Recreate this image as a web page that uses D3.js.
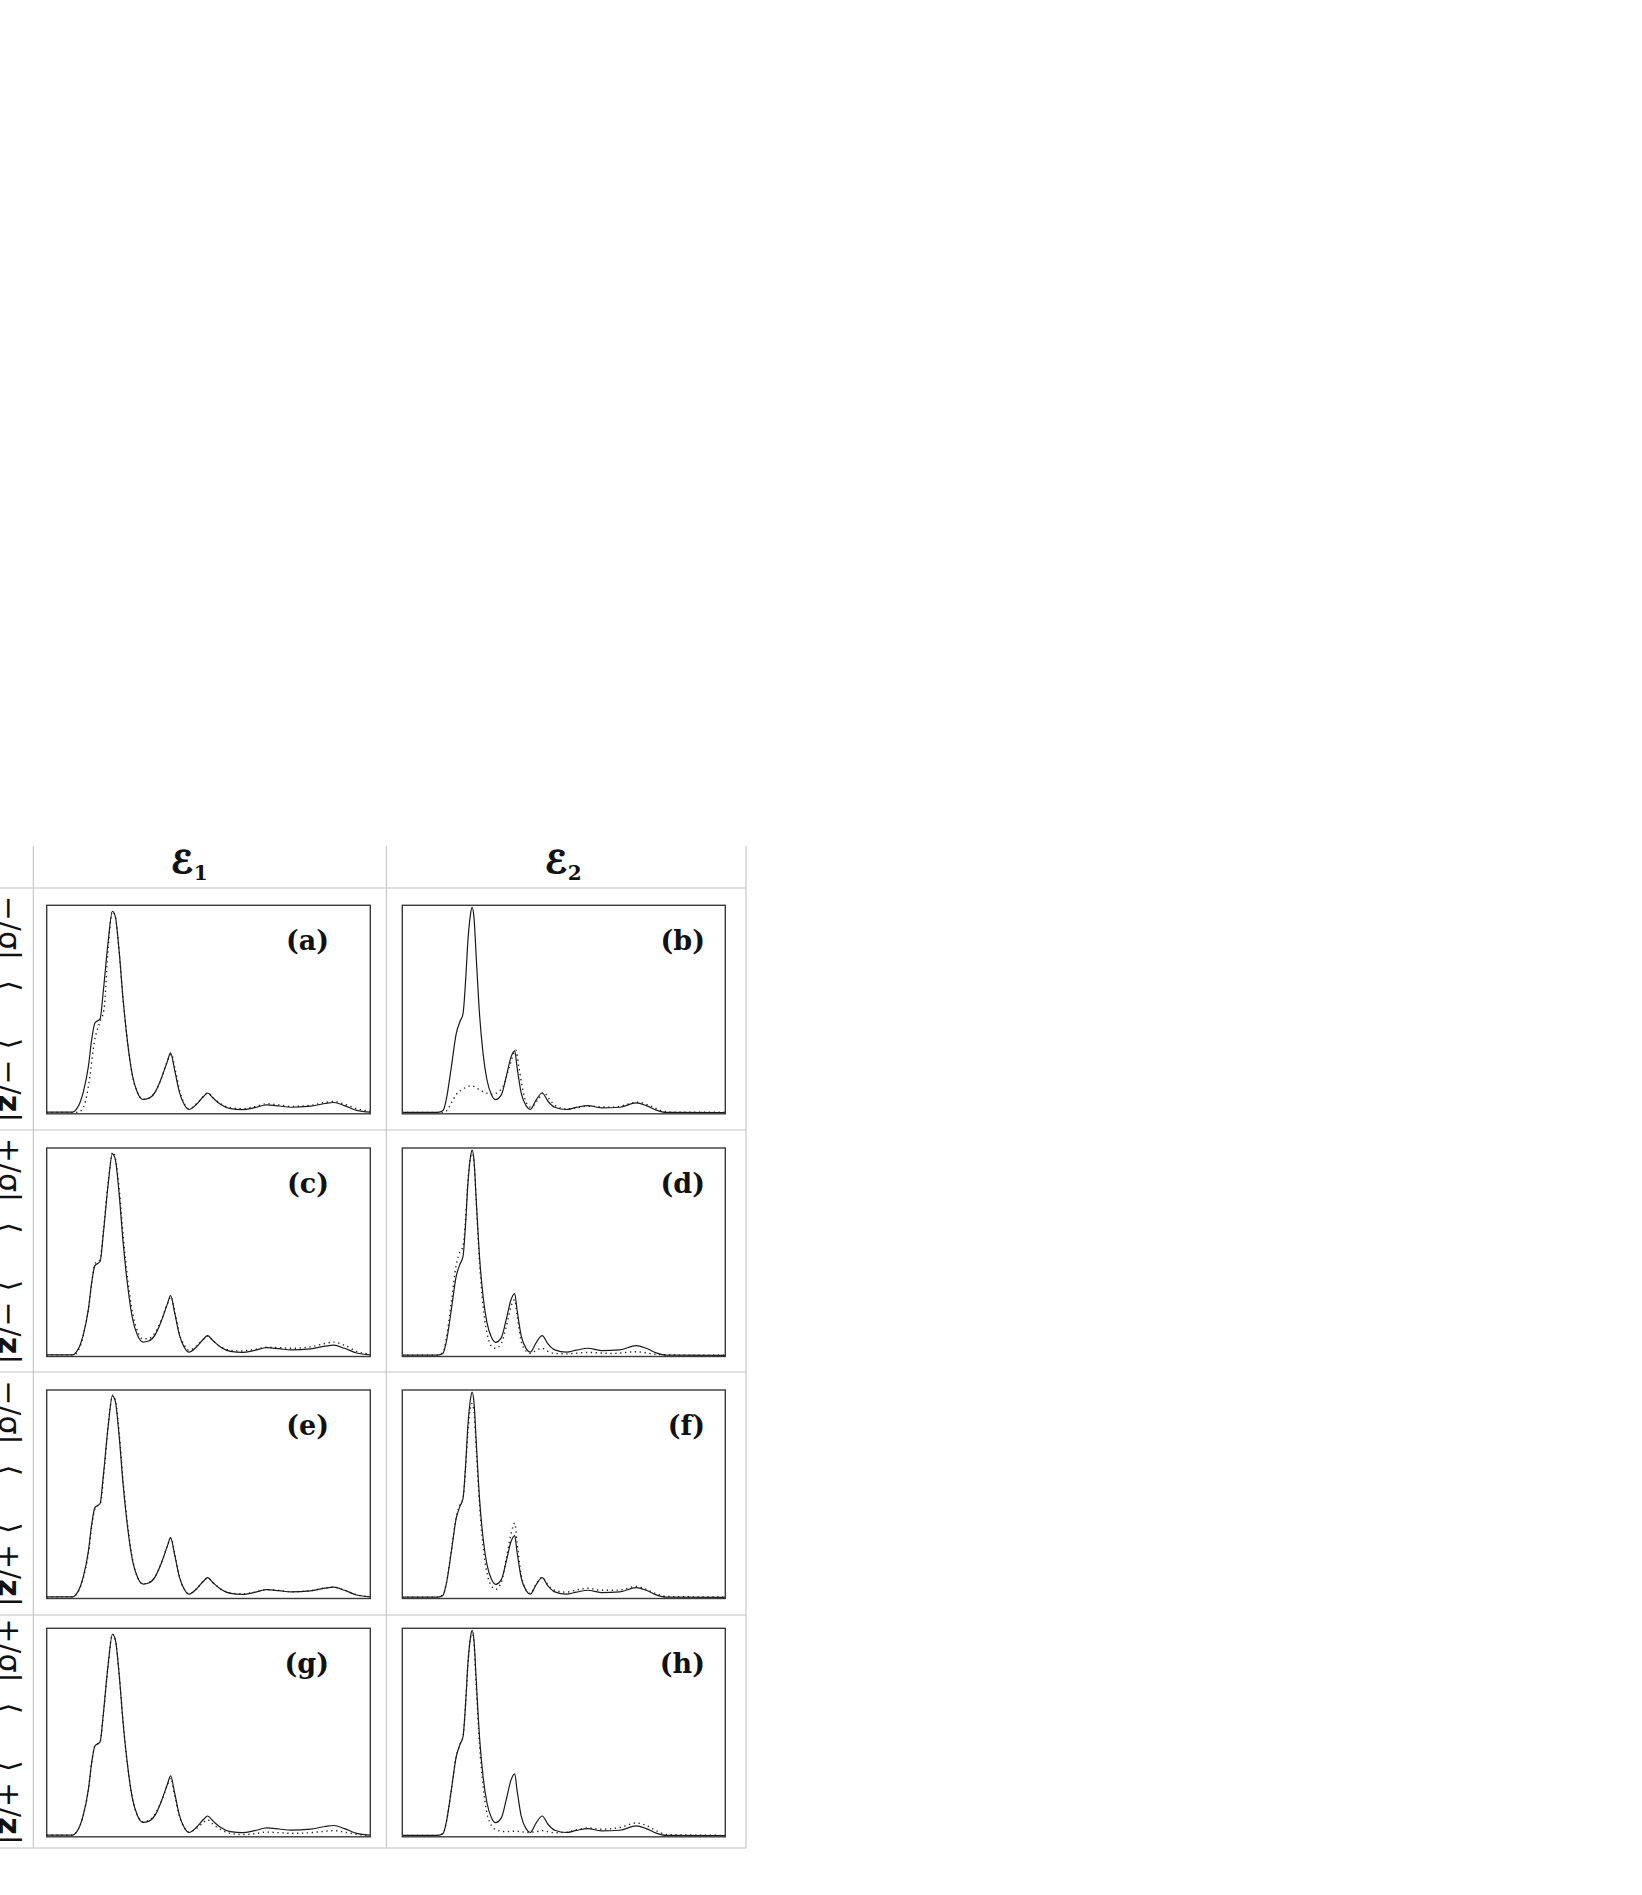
<!DOCTYPE html>
<html><head><meta charset="utf-8">
<script src="https://cdn.jsdelivr.net/npm/d3@7"></script>
<style>body{margin:0;background:#fff;} svg{display:block}</style>
</head><body>
<script>
// ---------------- DATA ----------------
const colBase = ["ℰ", "ℰ"];
const colSub = ["1", "2"];
const panelLabels = [["(a)", "(b)"], ["(c)", "(d)"], ["(e)", "(f)"], ["(g)", "(h)"]];
const rowSigns = [["−", "−"], ["+", "−"], ["−", "+"], ["+", "+"]];

// reference spectrum, column ℰ1 (solid)
const solidE1 = [[0,0.003],[8,0.003],[9.2,0.018],[10.3,0.05],[11.3,0.1],[12.9,0.226],[13.9,0.354],[14.9,0.435],[16.5,0.455],[17.5,0.59],[19,0.83],[20.3,0.976],[21.2,0.95],[22.4,0.78],[23.6,0.55],[25,0.34],[26.5,0.18],[28,0.1],[29.8,0.065],[31.5,0.07],[33.5,0.1],[35.5,0.17],[37.3,0.25],[38.3,0.29],[39.5,0.21],[41,0.1],[42.5,0.04],[44,0.016],[46.2,0.04],[48.5,0.08],[49.7,0.096],[51.5,0.07],[53.8,0.04],[56.8,0.02],[60.5,0.015],[64.3,0.025],[68,0.038],[71.8,0.033],[75.5,0.027],[81.5,0.032],[86,0.045],[88.7,0.05],[92,0.035],[95.8,0.012],[100,0.003]];
// reference spectrum, column ℰ2 (solid)
const solidE2 = [[0,0.002],[11,0.002],[12.6,0.011],[13.6,0.064],[15.2,0.224],[16.7,0.384],[17.8,0.44],[18.8,0.48],[19.6,0.64],[20.3,0.83],[21.1,0.96],[21.6,0.995],[22.2,0.944],[22.9,0.75],[23.9,0.48],[25,0.288],[26.2,0.16],[27.6,0.088],[28.9,0.064],[30.7,0.088],[32.2,0.176],[33.7,0.272],[34.8,0.3],[35.5,0.224],[36.8,0.096],[38.4,0.032],[39.6,0.016],[41.5,0.064],[43.3,0.096],[45.1,0.056],[47.2,0.027],[50.8,0.016],[53.9,0.026],[57.5,0.035],[61.6,0.024],[67.3,0.027],[72.4,0.048],[75.5,0.035],[78.6,0.013],[81.7,0.002],[100,0.001]];

// reconstructions (dotted)
const dotA = [[0,0.002],[9,0.002],[10.2,0.006],[11.7,0.04],[13.2,0.16],[14.7,0.34],[16.2,0.43],[17.7,0.5],[19,0.8],[20.3,0.975],[21.2,0.95],[22.4,0.78],[23.6,0.55],[25,0.34],[26.5,0.18],[28,0.1],[29.8,0.065],[31.5,0.07],[33.5,0.1],[35.5,0.17],[37.3,0.25],[38.5,0.285],[39.7,0.21],[41.2,0.1],[42.5,0.045],[44,0.02],[46.2,0.042],[48.5,0.08],[49.9,0.097],[51.5,0.072],[53.8,0.043],[56.8,0.024],[60.5,0.02],[64.3,0.03],[68,0.044],[71.8,0.038],[75.5,0.031],[81.5,0.036],[86,0.05],[88.7,0.055],[92,0.042],[95.8,0.02],[100,0.008]];
const dotB = [[0,0.002],[12.5,0.002],[13.6,0.008],[15.2,0.048],[16.7,0.088],[18.8,0.115],[21.4,0.131],[23.9,0.112],[26,0.096],[27.6,0.09],[28.6,0.092],[31.2,0.128],[33.2,0.224],[35.1,0.304],[36.1,0.22],[37.2,0.12],[38.4,0.048],[39.9,0.027],[42,0.064],[43.8,0.099],[45.6,0.064],[47.7,0.032],[50.8,0.019],[57.5,0.032],[65.2,0.027],[73,0.051],[76.6,0.035],[80.7,0.008],[83.8,0.003],[100,0.003]];
const dotC = [[0,0.003],[8.5,0.003],[9.6,0.02],[10.6,0.055],[11.5,0.11],[13,0.235],[14,0.36],[14.9,0.445],[16.5,0.465],[17.5,0.6],[19,0.84],[20.4,0.985],[21.3,0.95],[22.5,0.79],[23.7,0.57],[25.1,0.36],[26.6,0.2],[28,0.12],[29.8,0.08],[31.5,0.082],[33.5,0.11],[35.5,0.175],[37.3,0.25],[38.4,0.285],[39.6,0.21],[41,0.105],[42.5,0.05],[44,0.025],[46.2,0.045],[48.5,0.08],[49.7,0.094],[51.5,0.07],[53.8,0.042],[56.8,0.025],[60.5,0.022],[64.3,0.03],[68,0.04],[71.8,0.038],[75.5,0.035],[81.5,0.042],[86,0.058],[88.7,0.065],[92,0.05],[95.8,0.02],[100,0.006]];
const dotD = [[0,0.002],[11,0.002],[12.6,0.015],[13.6,0.08],[15.2,0.26],[16.7,0.44],[17.8,0.5],[18.8,0.53],[19.6,0.66],[20.3,0.84],[21.1,0.96],[21.6,0.99],[22.2,0.94],[22.9,0.74],[23.9,0.45],[25,0.24],[26.2,0.11],[27.6,0.045],[28.9,0.035],[30.7,0.06],[32.2,0.14],[33.7,0.24],[34.8,0.27],[35.5,0.2],[36.8,0.07],[38.4,0.02],[39.6,0.01],[41.5,0.025],[43.3,0.035],[45.1,0.02],[47.2,0.01],[50.8,0.008],[57.5,0.015],[65,0.01],[72.4,0.018],[78.6,0.006],[85,0.002],[100,0.001]];
const dotE = [[0,0.003],[8.2,0.003],[9.3,0.018],[10.4,0.05],[11.4,0.1],[13,0.226],[14,0.354],[15,0.435],[16.6,0.455],[17.6,0.59],[19,0.83],[20.4,0.98],[21.3,0.95],[22.5,0.78],[23.7,0.55],[25.1,0.34],[26.6,0.18],[28,0.1],[29.8,0.066],[31.5,0.071],[33.5,0.1],[35.5,0.17],[37.3,0.25],[38.4,0.288],[39.6,0.21],[41,0.1],[42.5,0.042],[44,0.018],[46.2,0.041],[48.5,0.08],[49.7,0.095],[51.5,0.07],[53.8,0.041],[56.8,0.022],[60.5,0.017],[64.3,0.026],[68,0.038],[71.8,0.034],[75.5,0.028],[81.5,0.033],[86,0.046],[88.7,0.05],[92,0.036],[95.8,0.013],[100,0.004]];
const dotF = [[0,0.002],[11,0.002],[12.6,0.012],[13.6,0.066],[15.2,0.23],[16.7,0.39],[17.8,0.445],[18.8,0.48],[19.6,0.63],[20.3,0.8],[21.1,0.92],[21.6,0.94],[22.2,0.9],[22.9,0.72],[23.9,0.45],[25,0.25],[26.2,0.12],[27.6,0.055],[28.9,0.04],[30.7,0.075],[32.2,0.19],[33.7,0.31],[34.8,0.36],[35.5,0.27],[36.8,0.11],[38.4,0.035],[39.6,0.02],[41.5,0.066],[43.3,0.098],[45.1,0.06],[47.2,0.035],[50.8,0.026],[53.9,0.036],[57.5,0.045],[61.6,0.035],[67.3,0.036],[72.4,0.054],[75.5,0.04],[78.6,0.018],[82,0.005],[100,0.002]];
const dotG = [[0,0.003],[8,0.003],[9.2,0.018],[10.3,0.05],[11.3,0.1],[12.9,0.226],[13.9,0.354],[14.9,0.435],[16.5,0.455],[17.5,0.59],[19,0.83],[20.3,0.976],[21.2,0.95],[22.4,0.78],[23.6,0.55],[25,0.34],[26.5,0.18],[28,0.1],[29.8,0.068],[31.5,0.074],[33.5,0.104],[35.5,0.17],[37.3,0.245],[38.3,0.28],[39.5,0.2],[41,0.095],[42.5,0.04],[44,0.018],[46.2,0.035],[48.5,0.065],[49.7,0.078],[51.5,0.055],[53.8,0.03],[56.8,0.012],[60.5,0.006],[64.3,0.01],[68,0.018],[71.8,0.015],[75.5,0.012],[81.5,0.015],[86,0.022],[88.7,0.025],[92,0.018],[95.8,0.007],[100,0.002]];
const dotH = [[0,0.002],[11,0.002],[12.6,0.011],[13.6,0.064],[15.2,0.224],[16.7,0.384],[17.8,0.44],[18.8,0.48],[19.6,0.64],[20.3,0.83],[21.1,0.96],[21.6,0.99],[22.2,0.93],[22.9,0.72],[23.9,0.44],[25,0.24],[26.2,0.11],[27.6,0.05],[28.9,0.03],[30.7,0.022],[32.2,0.02],[34.8,0.022],[36.8,0.02],[38.4,0.016],[41.5,0.02],[43.3,0.025],[45.1,0.02],[47.2,0.015],[50.8,0.018],[53.9,0.028],[57.5,0.038],[61.6,0.032],[67.3,0.04],[72.4,0.062],[75.5,0.05],[78.6,0.025],[82,0.006],[100,0.002]];

const solidSeries = [solidE1, solidE2];
const dottedSeries = [[dotA, dotB], [dotC, dotD], [dotE, dotF], [dotG, dotH]];

// ---------------- LAYOUT ----------------
const W = 1642, H = 1895;
const gridTop = 846;
const rowLines = [888, 1130, 1372, 1615, 1848];
const panelTops = [905.3, 1148, 1390, 1628.3];
const panelH = 208.5;
const colLines = [33.3, 386.3, 746];
const panelX = [[46.7, 370.3], [402.3, 725.3]];

const svg = d3.select("body").append("svg").attr("width", W).attr("height", H);
const gridBottom = rowLines[4];

// horizontal grid lines
svg.append("g").selectAll("line").data(rowLines).join("line")
  .attr("x1", 0).attr("x2", colLines[2]).attr("y1", d => d).attr("y2", d => d)
  .attr("stroke", "#d6d6d6").attr("stroke-width", 1.6);
// vertical grid lines
svg.append("g").selectAll("line").data(colLines).join("line")
  .attr("x1", d => d).attr("x2", d => d).attr("y1", gridTop).attr("y2", gridBottom)
  .attr("stroke", "#bdbdbd").attr("stroke-width", 1);

// column headers
const headerX = [171, 545];
colBase.forEach((b, i) => {
  const t = svg.append("text").attr("x", headerX[i]).attr("y", 873)
    .attr("font-family", "DejaVu Serif, DejaVu Sans").attr("font-weight", "bold")
    .attr("font-size", 31).attr("fill", "#111");
  t.append("tspan").attr("stroke", "#111").attr("stroke-width", 1.3).text(b);
  t.append("tspan").attr("dy", 7).attr("font-size", 20).attr("font-family", "DejaVu Serif").text(colSub[i]);
});

// row labels (rotated, partly outside the page as in the reference)
rowSigns.forEach((s, r) => {
  const yc = (rowLines[r] + rowLines[r + 1]) / 2;
  const t = svg.append("text")
    .attr("transform", `translate(-1,${yc}) rotate(90)`)
    .attr("text-anchor", "middle")
    .attr("font-family", "DejaVu Sans").attr("font-size", 30).attr("fill", "#111");
  t.append("tspan").text(s[0] + "/σ|");
  t.append("tspan").attr("dx", 20).text("⟨");
  t.append("tspan").attr("dx", 46).text("⟩");
  t.append("tspan").attr("dx", 10).text(s[1] + "/");
  t.append("tspan").attr("font-weight", "bold").text("z");
  t.append("tspan").text("|");
});

// panels
const labelX = [329, 705];
const line = (x, y) => d3.line().x(d => x(d[0])).y(d => y(d[1])).curve(d3.curveMonotoneX);

for (let r = 0; r < 4; r++) {
  for (let c = 0; c < 2; c++) {
    const top = panelTops[r], bottom = top + panelH;
    const [x0, x1] = panelX[c];
    const x = d3.scaleLinear().domain([0, 100]).range([x0, x1]);
    const y = d3.scaleLinear().domain([0, 1]).range([bottom - 1, top + 1]);
    const g = svg.append("g");
    g.append("path").datum(dottedSeries[r][c]).attr("d", line(x, y))
      .attr("fill", "none").attr("stroke", "#222").attr("stroke-width", 1.4)
      .attr("stroke-dasharray", "1.3,3.6");
    g.append("path").datum(solidSeries[c]).attr("d", line(x, y))
      .attr("fill", "none").attr("stroke", "#1a1a1a").attr("stroke-width", 1.2);
    g.append("rect").attr("x", x0).attr("y", top).attr("width", x1 - x0).attr("height", panelH)
      .attr("fill", "none").attr("stroke", "#3a3a3a").attr("stroke-width", 1.4);
    g.append("text").attr("x", labelX[c]).attr("y", top + 45)
      .attr("text-anchor", "end")
      .attr("font-family", "DejaVu Serif").attr("font-weight", "bold")
      .attr("font-size", 27).attr("fill", "#111").text(panelLabels[r][c]);
  }
}
</script>
</body></html>
